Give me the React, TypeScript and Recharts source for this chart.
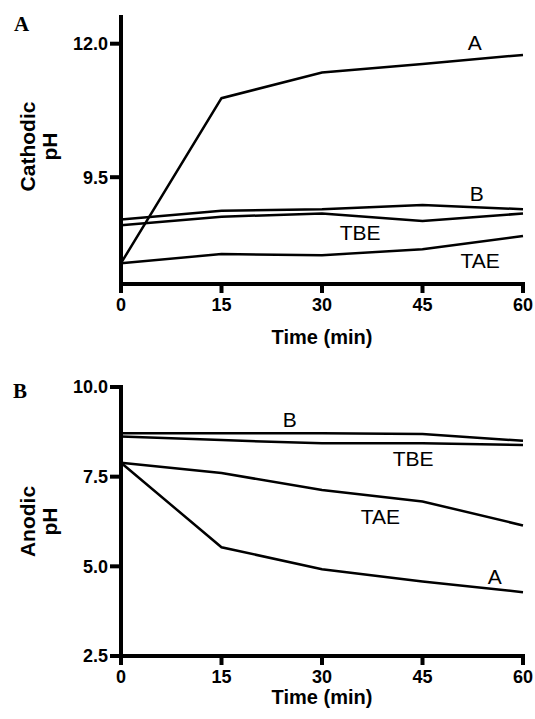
import React from 'react';
import { LineChart, Line, XAxis, YAxis, ReferenceDot } from 'recharts';

// time points (min)
const TIME = [0, 15, 30, 45, 60];

// panel A: cathodic pH
const CATHODIC_A = [7.89, 10.98, 11.46, 11.62, 11.79];
const CATHODIC_B = [8.71, 8.87, 8.9, 8.98, 8.9];
const CATHODIC_TBE = [8.6, 8.76, 8.82, 8.68, 8.82];
const CATHODIC_TAE = [7.89, 8.06, 8.04, 8.15, 8.4];
const CATHODIC_TICKS = [9.5, 12.0];

// panel B: anodic pH
const ANODIC_A = [7.89, 5.53, 4.92, 4.58, 4.28];
const ANODIC_B = [8.71, 8.71, 8.71, 8.69, 8.5];
const ANODIC_TBE = [8.62, 8.52, 8.43, 8.43, 8.38];
const ANODIC_TAE = [7.89, 7.6, 7.13, 6.81, 6.14];
const ANODIC_TICKS = [2.5, 5.0, 7.5, 10.0];

// line labels, anchored in data units
const SERIES = ['A', 'B', 'TBE', 'TAE'];
const CATHODIC_LABEL_T = [52.8, 53.1, 35.7, 53.6];
const CATHODIC_LABEL_PH = [12.02, 9.2, 8.46, 7.93];
const ANODIC_LABEL_T = [55.8, 25.2, 43.6, 38.7];
const ANODIC_LABEL_PH = [4.72, 9.08, 8.0, 6.39];

const axisStyle = { stroke: '#000', strokeWidth: 4 };
const tickFont = { fontSize: 18, fontWeight: 'bold', fill: '#000' };

function YLabel({ viewBox, word, dyCenter }: any) {
  const cy = viewBox.y + viewBox.height / 2 + dyCenter;
  return (
    <g fontSize={21} fontWeight="bold" fill="#000">
      <text x={35} y={cy} textAnchor="middle" transform={`rotate(-90, 35, ${cy})`}>{word}</text>
      <text x={57} y={cy} textAnchor="middle" transform={`rotate(-90, 57, ${cy})`}>pH</text>
    </g>
  );
}

function XLabel({ viewBox, below }: any) {
  return (
    <text x={viewBox.x + viewBox.width / 2} y={viewBox.y + below} textAnchor="middle"
      fontSize={20} fontWeight="bold" fill="#000">
      Time (min)
    </text>
  );
}

function Panel({ height, top, xHeight, domain, ticks, series, labelT, labelPh, word, dyCenter, below, tickMargin }: any) {
  const data = TIME.map((t, i) => ({
    t,
    A: series[0][i],
    B: series[1][i],
    TBE: series[2][i],
    TAE: series[3][i],
  }));
  return (
    <LineChart width={535} height={height} data={data} margin={{ top, right: 12, bottom: 0, left: 0 }}>
      <XAxis
        dataKey="t"
        type="number"
        domain={[0, 60]}
        ticks={TIME}
        interval={0}
        height={xHeight}
        tick={tickFont}
        tickSize={9}
        tickMargin={tickMargin}
        axisLine={{ ...axisStyle, strokeLinecap: 'square' }}
        tickLine={axisStyle}
        label={<XLabel below={below} />}
      />
      <YAxis
        type="number"
        domain={domain}
        ticks={ticks}
        interval={0}
        width={121}
        allowDataOverflow
        tickFormatter={(v: number) => v.toFixed(1)}
        tick={tickFont}
        tickSize={11}
        tickMargin={2}
        axisLine={{ ...axisStyle, strokeLinecap: 'square' }}
        tickLine={axisStyle}
        label={<YLabel word={word} dyCenter={dyCenter} />}
      />
      {SERIES.map((s) => (
        <Line key={s} dataKey={s} type="linear" stroke="#000" strokeWidth={2.5} dot={false} isAnimationActive={false} />
      ))}
      {SERIES.map((s, i) => (
        <ReferenceDot key={'l' + s} x={labelT[i]} y={labelPh[i]} r={0} ifOverflow="visible"
          stroke="none" fill="none"
          label={{ value: s, position: 'center', fontSize: 21, fill: '#000' }} />
      ))}
    </LineChart>
  );
}

export default function App() {
  return (
    <div style={{ position: 'absolute', left: 0, top: 0, width: 535, height: 719, background: '#fff', fontFamily: '"Liberation Sans", Arial, sans-serif' }}>
      <div style={{ position: 'absolute', left: 0, top: 0 }}>
        <Panel height={360} top={17} xHeight={76} domain={[7.5, 12.5]} ticks={CATHODIC_TICKS}
          series={[CATHODIC_A, CATHODIC_B, CATHODIC_TBE, CATHODIC_TAE]}
          labelT={CATHODIC_LABEL_T} labelPh={CATHODIC_LABEL_PH}
          word="Cathodic" dyCenter={-4} below={60} tickMargin={5} />
      </div>
      <div style={{ position: 'absolute', left: 0, top: 360 }}>
        <Panel height={359} top={27} xHeight={63} domain={[2.5, 10]} ticks={ANODIC_TICKS}
          series={[ANODIC_A, ANODIC_B, ANODIC_TBE, ANODIC_TAE]}
          labelT={ANODIC_LABEL_T} labelPh={ANODIC_LABEL_PH}
          word="Anodic" dyCenter={0} below={48} tickMargin={5} />
      </div>
      <div style={{ position: 'absolute', left: 14, top: 12, fontFamily: '"Liberation Serif", serif', fontWeight: 'bold', fontSize: 21 }}>A</div>
      <div style={{ position: 'absolute', left: 13, top: 379, fontFamily: '"Liberation Serif", serif', fontWeight: 'bold', fontSize: 21 }}>B</div>
    </div>
  );
}
